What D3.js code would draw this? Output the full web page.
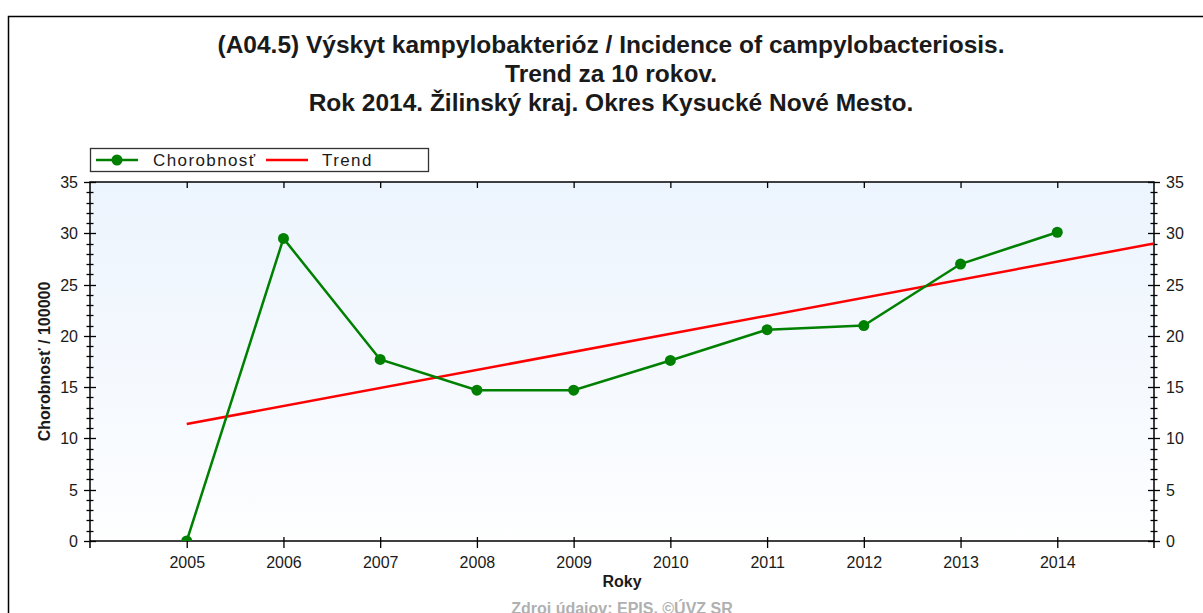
<!DOCTYPE html>
<html>
<head>
<meta charset="utf-8">
<script src="https://cdn.jsdelivr.net/npm/d3@7"></script>
<style>
  body { margin: 0; background: #fff; }
  svg { display: block; font-family: "Liberation Sans", Arial, sans-serif; }
</style>
</head>
<body>
<svg id="chart" width="1203" height="613"></svg>
<script>
// data
let years = [2005, 2006, 2007, 2008, 2009, 2010, 2011, 2012, 2013, 2014];
let incidence = [0, 29.5, 17.7, 14.7, 14.7, 17.6, 20.6, 21.0, 27.0, 30.1];
let trendYears = [2005, 2015];
let trendValues = [11.4, 29.0];
let yTicks = [0, 5, 10, 15, 20, 25, 30, 35];
let titleLines = [
  '(A04.5) Výskyt kampylobakterióz / Incidence of campylobacteriosis.',
  'Trend za 10 rokov.',
  'Rok 2014. Žilinský kraj. Okres Kysucké Nové Mesto.'
];

let pLeft = 90, pRight = 1154, pTop = 182, pBottom = 541;
let svg = d3.select('#chart');

let x = d3.scaleLinear().domain([2004, 2015]).range([pLeft, pRight]);
let y = d3.scaleLinear().domain([0, 35]).range([pBottom, pTop]);

// outer frame (runs off the picture on right and bottom)
svg.append('rect')
  .attr('x', 8.5).attr('y', 16.5).attr('width', 1300).attr('height', 700)
  .attr('fill', 'none').attr('stroke', '#000').attr('stroke-width', 1.5);

// title
svg.append('g').selectAll('text').data(titleLines).enter()
  .append('text')
  .attr('x', 611)
  .attr('y', function(d, i){ return 53 + i * 29; })
  .attr('text-anchor', 'middle')
  .attr('font-size', 24.5)
  .attr('font-weight', 'bold')
  .attr('fill', '#1a1a1a')
  .text(function(d){ return d; });

// plot background
let defs = svg.append('defs');
let grad = defs.append('linearGradient').attr('id', 'bg').attr('x1', 0).attr('y1', 0).attr('x2', 0).attr('y2', 1);
grad.append('stop').attr('offset', '0%').attr('stop-color', '#ecf4fd');
grad.append('stop').attr('offset', '85%').attr('stop-color', '#fafcff');
grad.append('stop').attr('offset', '100%').attr('stop-color', '#ffffff');
defs.append('clipPath').attr('id', 'plotClip')
  .append('rect').attr('x', pLeft).attr('y', pTop).attr('width', pRight - pLeft).attr('height', pBottom - pTop);

svg.append('rect')
  .attr('x', pLeft).attr('y', pTop).attr('width', pRight - pLeft).attr('height', pBottom - pTop)
  .attr('fill', 'url(#bg)');

// axes
let minor = d3.range(0, 36, 1);
let xAxisBottom = d3.axisBottom(x).tickValues(years).tickFormat(d3.format('d')).tickSize(7).tickPadding(9);
let xAxisTop = d3.axisBottom(x).tickValues(years).tickFormat('').tickSize(6);

let gxb = svg.append('g').attr('transform', 'translate(0,' + pBottom + ')').call(xAxisBottom);
let gxt = svg.append('g').attr('transform', 'translate(0,' + pTop + ')').call(xAxisTop);
[gxb, gxt].forEach(function(g){
  g.select('.domain').remove();
  g.selectAll('line').attr('stroke', '#000').attr('stroke-width', 1.3);
  g.selectAll('text').attr('font-size', 16).attr('fill', '#1a1a1a').attr('font-family', '"Liberation Sans", Arial, sans-serif');
});
// bottom ticks also poke a bit inside
gxb.selectAll('.tick line').attr('y1', -4);

function yAxis(side, xpos) {
  let g = svg.append('g');
  g.selectAll('line.minor').data(minor.filter(function(d){ return d % 5 != 0; })).enter()
    .append('line').attr('class', 'minor')
    .attr('x1', xpos - 3.5).attr('x2', xpos + 3.5)
    .attr('y1', function(d){ return Math.round(y(d)) + 0.5; })
    .attr('y2', function(d){ return Math.round(y(d)) + 0.5; })
    .attr('stroke', '#000').attr('stroke-width', 1.3);
  g.selectAll('line.major').data(yTicks).enter()
    .append('line').attr('class', 'major')
    .attr('x1', xpos - 6).attr('x2', xpos + 6)
    .attr('y1', function(d){ return Math.round(y(d)) + 0.5; })
    .attr('y2', function(d){ return Math.round(y(d)) + 0.5; })
    .attr('stroke', '#000').attr('stroke-width', 1.3);
  g.selectAll('text').data(yTicks).enter()
    .append('text')
    .attr('x', side == 'left' ? xpos - 12 : xpos + 12)
    .attr('y', function(d){ return y(d) + 6; })
    .attr('text-anchor', side == 'left' ? 'end' : 'start')
    .attr('font-size', 16).attr('fill', '#1a1a1a')
    .text(function(d){ return d; });
}
yAxis('left', pLeft);
yAxis('right', pRight);

// plot frame
svg.append('rect')
  .attr('x', pLeft).attr('y', pTop).attr('width', pRight - pLeft).attr('height', pBottom - pTop)
  .attr('fill', 'none').attr('stroke', '#000').attr('stroke-width', 1.5);
// axis lines run a little below the frame
svg.append('line').attr('x1', pLeft).attr('x2', pLeft).attr('y1', pBottom).attr('y2', pBottom + 7).attr('stroke', '#000').attr('stroke-width', 1.5);
svg.append('line').attr('x1', pRight).attr('x2', pRight).attr('y1', pBottom).attr('y2', pBottom + 7).attr('stroke', '#000').attr('stroke-width', 1.5);

// series
let plot = svg.append('g').attr('clip-path', 'url(#plotClip)');

let trendData = trendYears.map(function(d, i){ return {year: d, value: trendValues[i]}; });
plot.append('path').datum(trendData)
  .attr('fill', 'none').attr('stroke', '#ff0000').attr('stroke-width', 2.5)
  .attr('d', d3.line().x(function(d){ return x(d.year); }).y(function(d){ return y(d.value); }));

let points = years.map(function(d, i){ return {year: d, value: incidence[i]}; });
plot.append('path').datum(points)
  .attr('fill', 'none').attr('stroke', '#008000').attr('stroke-width', 2.5)
  .attr('d', d3.line().x(function(d){ return x(d.year); }).y(function(d){ return y(d.value); }));
plot.selectAll('circle').data(points).enter()
  .append('circle')
  .attr('cx', function(d){ return x(d.year); })
  .attr('cy', function(d){ return y(d.value); })
  .attr('r', 5.5)
  .attr('fill', '#008000');

// legend
let legend = svg.append('g');
legend.append('rect').attr('x', 90.5).attr('y', 148.5).attr('width', 338).attr('height', 23)
  .attr('fill', '#fff').attr('stroke', '#333').attr('stroke-width', 1.3);
legend.append('line').attr('x1', 96).attr('x2', 138).attr('y1', 160).attr('y2', 160)
  .attr('stroke', '#008000').attr('stroke-width', 2.5);
legend.append('circle').attr('cx', 117).attr('cy', 160).attr('r', 5.5).attr('fill', '#008000');
legend.append('text').attr('x', 153).attr('y', 166).attr('font-size', 17).attr('letter-spacing', 1.4)
  .attr('fill', '#1a1a1a').text('Chorobnosť');
legend.append('line').attr('x1', 266).attr('x2', 308).attr('y1', 160).attr('y2', 160)
  .attr('stroke', '#ff0000').attr('stroke-width', 2.5);
legend.append('text').attr('x', 322).attr('y', 166).attr('font-size', 17).attr('letter-spacing', 1.4)
  .attr('fill', '#1a1a1a').text('Trend');

// axis titles
svg.append('text')
  .attr('transform', 'translate(50,' + ((pTop + pBottom) / 2) + ') rotate(-90)')
  .attr('text-anchor', 'middle').attr('font-size', 16).attr('font-weight', 'bold').attr('fill', '#1a1a1a')
  .text('Chorobnosť / 100000');
svg.append('text')
  .attr('x', (pLeft + pRight) / 2).attr('y', 587)
  .attr('text-anchor', 'middle').attr('font-size', 16).attr('font-weight', 'bold').attr('fill', '#1a1a1a')
  .text('Roky');
svg.append('text')
  .attr('x', (pLeft + pRight) / 2).attr('y', 614)
  .attr('text-anchor', 'middle').attr('font-size', 16).attr('font-weight', 'bold').attr('fill', '#b0b0b0')
  .text('Zdroj údajov: EPIS, ©ÚVZ SR');
</script>
</body>
</html>
